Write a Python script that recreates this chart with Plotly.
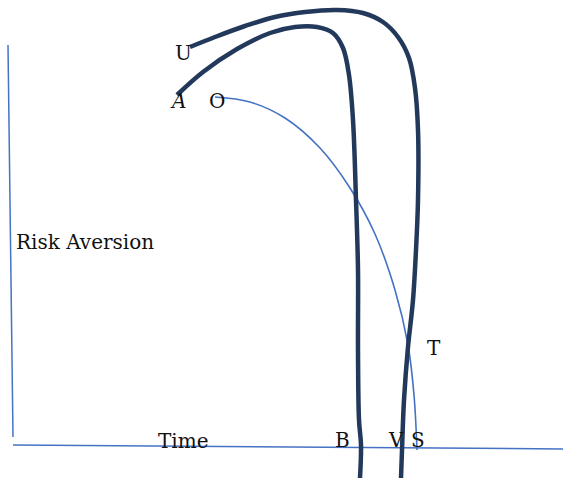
import plotly.graph_objects as go

W, H = 564, 479

# Axis lines of the sketch (pixel space)
vaxis_x = [8, 13]
vaxis_y = [45, 437]
haxis_x = [13, 563]
haxis_y = [445, 449]

# Thin curve from O to S
o_x = [215, 250, 285, 320, 350, 375, 395, 408, 414, 417]
o_y = [97, 102, 118, 148, 188, 234, 290, 345, 395, 450]

# Thick curve from A to B
a_x = [177, 203, 237, 270, 295, 317, 333, 343, 349, 353, 356, 358, 358, 359, 361, 360]
a_y = [95, 72, 49, 33, 27, 27, 33, 48, 75, 120, 200, 270, 350, 420, 445, 478]

# Thick curve from U to V
u_x = [190, 215, 245, 275, 305, 337, 363, 383, 398, 409, 415, 418, 418, 416, 413, 408, 404, 402, 401]
u_y = [47, 37, 26, 17, 12, 10, 13, 22, 37, 58, 88, 130, 200, 250, 300, 347, 400, 450, 478]

labels = ["U", "A", "O", "Risk Aversion", "Time", "B", "V", "S", "T"]
label_x = [183, 178, 217, 14, 156, 342, 396, 418, 425]
label_y = [53, 101, 101, 242, 441, 440, 440, 440, 348]

fig = go.Figure()
thin = "#4472C4"
thick = "#22395B"
fig.add_trace(go.Scatter(x=vaxis_x, y=vaxis_y, mode="lines", line=dict(color=thin, width=1.5)))
fig.add_trace(go.Scatter(x=haxis_x, y=haxis_y, mode="lines", line=dict(color=thin, width=1.5)))
fig.add_trace(go.Scatter(x=o_x, y=o_y, mode="lines", line=dict(color=thin, width=1.6, shape="spline", smoothing=1.0)))
fig.add_trace(go.Scatter(x=a_x, y=a_y, mode="lines", line=dict(color=thick, width=4.5, shape="spline", smoothing=1.0)))
fig.add_trace(go.Scatter(x=u_x, y=u_y, mode="lines", line=dict(color=thick, width=4.5, shape="spline", smoothing=1.0)))

for t, x, y in zip(labels, label_x, label_y):
    txt = "<i>A</i>" if t == "A" else t
    xa = "left" if t in ("Risk Aversion", "Time", "T") else "center"
    fig.add_annotation(x=x, y=y, text=txt, showarrow=False, xanchor=xa, yanchor="middle",
                       font=dict(family="DejaVu Serif", size=20, color="#111111"))

fig.update_layout(
    width=W, height=H, margin=dict(l=0, r=0, t=0, b=0),
    paper_bgcolor="white", plot_bgcolor="white", showlegend=False,
    xaxis=dict(range=[0, W], visible=False, fixedrange=True),
    yaxis=dict(range=[H, 0], visible=False, fixedrange=True),
)
fig.write_html("out.html", config={"displayModeBar": False},
               post_script="document.body.style.margin='0';document.body.style.overflow='hidden';")
